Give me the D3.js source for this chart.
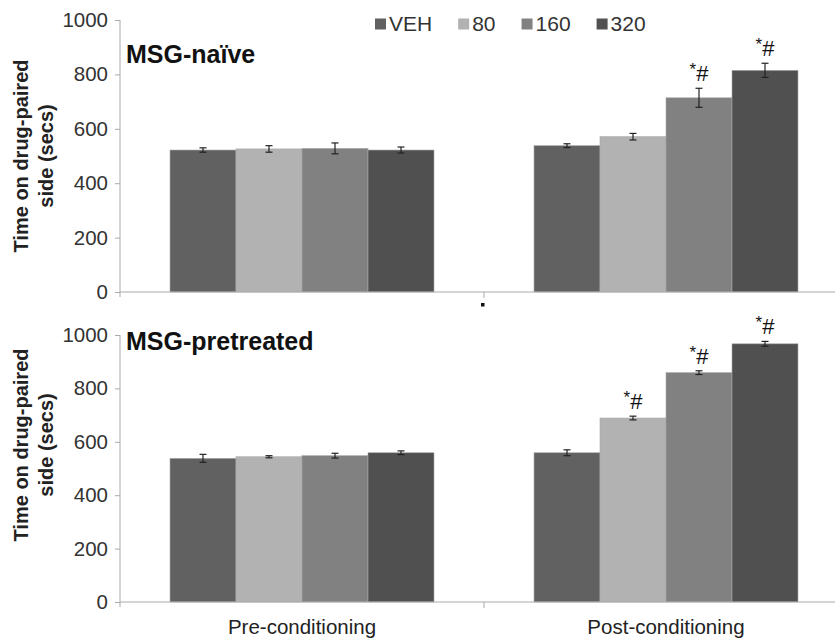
<html>
<head>
<meta charset="utf-8">
<style>
  body { margin: 0; background: #fff; }
  text { font-family: "Liberation Sans", Arial, sans-serif; }
</style>
</head>
<body>
<svg></svg>
<script src="https://d3js.org/d3.v7.min.js"></script>
<script>
// data
var phases = ["Pre-conditioning", "Post-conditioning"];
var doses = ["VEH", "80", "160", "320"];
var yTicks = [0, 200, 400, 600, 800, 1000];

// MSG-naive: [pre, post] per dose
var naiveMean = [[522, 538], [526, 571], [528, 714], [522, 815]];
var naiveErr  = [[8, 7], [12, 12], [20, 35], [11, 26]];
var naiveSig  = [["", ""], ["", ""], ["", "*#"], ["", "*#"]];

// MSG-pretreated
var pretMean = [[538, 559], [544, 689], [548, 859], [559, 967]];
var pretErr  = [[15, 11], [4, 7], [9, 7], [7, 9]];
var pretSig  = [["", ""], ["", "*#"], ["", "*#"], ["", "*#"]];

var colors = ["#616161", "#b2b2b2", "#818181", "#505050"];

var svg = d3.select("svg").attr("width", 835).attr("height", 638);

var x = d3.scaleBand().domain(phases).range([120, 848]);
var xInner = d3.scaleBand().domain(doses)
  .range([50, x.bandwidth() - 50]);

function panel(title, means, errs, sigs, top, bottom, titleY, labelY) {
  var y = d3.scaleLinear().domain([0, 1000]).range([bottom, top]);
  var g = svg.append("g");

  // y axis
  var ya = g.append("g").attr("transform", "translate(120,0)")
    .call(d3.axisLeft(y).tickValues(yTicks).tickFormat(d3.format("d"))
      .tickSize(5).tickPadding(7));
  ya.select(".domain").remove();
  ya.selectAll("line").attr("stroke", "#aaa");
  ya.selectAll("text").attr("font-size", 20.5).attr("fill", "#333");
  g.append("line").attr("x1", 120).attr("x2", 120)
    .attr("y1", y(1000)).attr("y2", y(0) + 5).attr("stroke", "#aaa");

  // bars
  var rows = [];
  doses.forEach(function(d, i) {
    phases.forEach(function(p, j) {
      rows.push({dose: d, i: i, phase: p, v: means[i][j], e: errs[i][j], s: sigs[i][j]});
    });
  });

  g.selectAll("rect.bar").data(rows).enter().append("rect")
    .attr("class", "bar")
    .attr("x", function(d) { return x(d.phase) + xInner(d.dose); })
    .attr("width", xInner.bandwidth())
    .attr("y", function(d) { return y(d.v); })
    .attr("height", function(d) { return y(0) - y(d.v); })
    .attr("fill", function(d) { return colors[d.i]; })
    .attr("stroke", "#a8a8a8").attr("stroke-width", 0.6);

  // error bars
  var eb = g.selectAll("g.err").data(rows).enter().append("g")
    .attr("transform", function(d) {
      return "translate(" + (x(d.phase) + xInner(d.dose) + xInner.bandwidth() / 2) + ",0)";
    });
  eb.append("line").attr("y1", function(d) { return y(d.v + d.e); })
    .attr("y2", function(d) { return y(d.v - d.e); })
    .attr("stroke", "#222").attr("stroke-width", 1.2);
  eb.append("line").attr("x1", -3.5).attr("x2", 3.5)
    .attr("y1", function(d) { return y(d.v + d.e); })
    .attr("y2", function(d) { return y(d.v + d.e); })
    .attr("stroke", "#222").attr("stroke-width", 1.2);
  eb.append("line").attr("x1", -3.5).attr("x2", 3.5)
    .attr("y1", function(d) { return y(d.v - d.e); })
    .attr("y2", function(d) { return y(d.v - d.e); })
    .attr("stroke", "#222").attr("stroke-width", 1.2);

  // significance marks
  var sig = eb.filter(function(d) { return d.s; }).append("text")
    .attr("text-anchor", "middle")
    .attr("y", function(d) { return Math.max(y(d.v + d.e) - 7, top - 2); })
    .attr("fill", "#111");
  sig.append("tspan").attr("font-size", 17).attr("dy", -6).text("*");
  sig.append("tspan").attr("font-size", 22).attr("dy", 6).text("#");

  // x axis
  g.append("line").attr("x1", 120).attr("x2", 835)
    .attr("y1", y(0)).attr("y2", y(0)).attr("stroke", "#aaa");
  g.selectAll("line.xt").data([x(phases[1])]).enter().append("line")
    .attr("x1", function(d) { return d; }).attr("x2", function(d) { return d; })
    .attr("y1", y(0)).attr("y2", y(0) + 6).attr("stroke", "#aaa");

  if (labelY) {
    g.selectAll("text.cat").data(phases).enter().append("text")
      .attr("x", function(d) { return x(d) + x.bandwidth() / 2; })
      .attr("y", labelY).attr("text-anchor", "middle")
      .attr("font-size", 20.5).attr("fill", "#222").text(function(d) { return d; });
  }

  // panel title
  g.append("text").attr("x", 126).attr("y", titleY)
    .attr("font-size", 25).attr("font-weight", "bold").attr("fill", "#111")
    .text(title);

  return y;
}

function yTitle(cy) {
  var t = svg.append("text")
    .attr("transform", "translate(28," + cy + ") rotate(-90)")
    .attr("text-anchor", "middle").attr("font-size", 20)
    .attr("font-weight", "bold").attr("fill", "#222");
  t.append("tspan").attr("x", 0).attr("dy", 0).text("Time on drug-paired");
  t.append("tspan").attr("x", 0).attr("dy", 25).text("side (secs)");
}

panel("MSG-na\u00efve", naiveMean, naiveErr, naiveSig, 20, 292, 63, null);
panel("MSG-pretreated", pretMean, pretErr, pretSig, 335, 602, 350, 634);
yTitle(156);
yTitle(445);

// stray dot under middle tick
svg.append("rect").attr("x", 481).attr("y", 303).attr("width", 3.5).attr("height", 3.5)
  .attr("fill", "#111");

// legend
var lx = 375;
doses.forEach(function(d, i) {
  svg.append("rect").attr("x", lx).attr("y", 18.5).attr("width", 11).attr("height", 11)
    .attr("fill", colors[i]);
  var t = svg.append("text").attr("x", lx + 14).attr("y", 30.5)
    .attr("font-size", 21).attr("fill", "#333").text(d);
  lx += 14 + t.node().getComputedTextLength() + 26;
});
</script>
</body>
</html>
